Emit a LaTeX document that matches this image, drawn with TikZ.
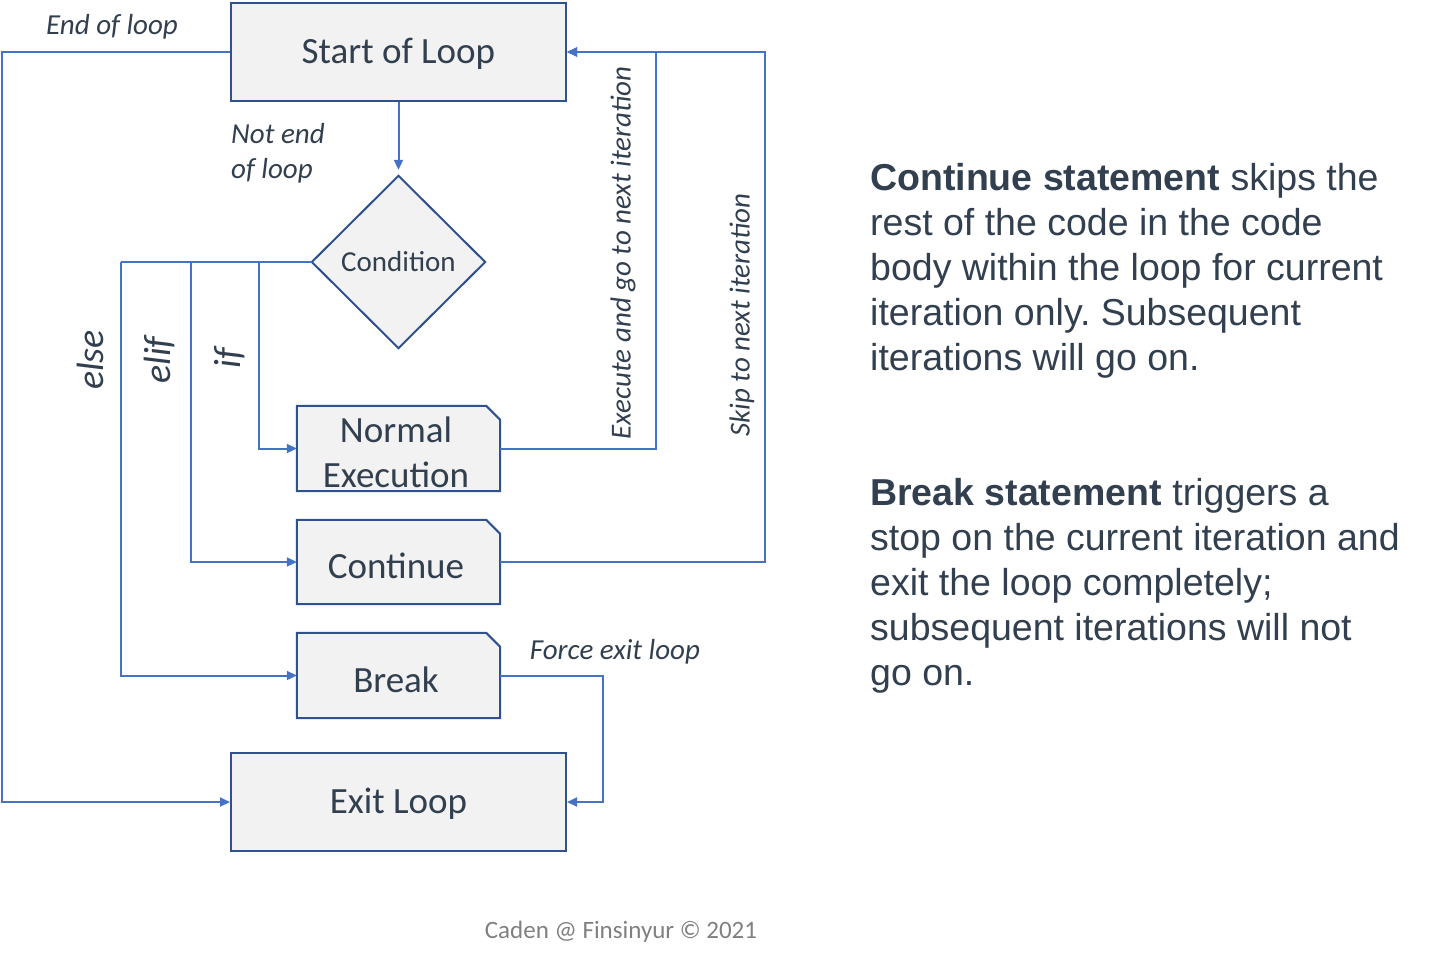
\documentclass[tikz,border=0pt]{standalone}
\usepackage{fontspec}
\setmainfont{Carlito}
\newfontfamily\arialf{Liberation Sans}
\usetikzlibrary{arrows.meta}
\definecolor{linec}{RGB}{68,114,196}
\definecolor{boxb}{RGB}{47,82,143}
\definecolor{boxf}{RGB}{242,242,242}
\definecolor{txt}{RGB}{50,63,79}
\definecolor{copyc}{RGB}{128,128,128}
\frenchspacing
\begin{document}
\begin{tikzpicture}[x=1pt,y=-1pt,
  boxn/.style={draw=boxb,fill=boxf,line width=2pt,inner sep=0pt,text=txt,font=\fontsize{37}{45}\selectfont,align=center,text depth=2pt},
  cutn/.style={draw=none,inner sep=0pt,minimum width=203pt},
  cutpath/.style={draw=boxb,fill=boxf,line width=2pt,line join=miter},
  conn/.style={draw=linec,line width=2pt,-{Triangle[length=10pt,width=9pt]}},
  plainconn/.style={draw=linec,line width=2pt},
  lab/.style={text=txt,font=\fontsize{29}{35}\selectfont\itshape,inner sep=0pt},
  biglab/.style={text=txt,font=\fontsize{38}{45}\selectfont\itshape,inner sep=0pt,rotate=90},
  boxtxt/.style={text=txt,font=\fontsize{37}{45}\selectfont,align=center,inner sep=0pt},
  para/.style={text=txt,font=\arialf\fontsize{37.5}{45}\selectfont,align=left,inner sep=0pt,anchor=north west}
]
\useasboundingbox (0,0) rectangle (1432,962);

% main boxes
\node[boxn,minimum width=335pt,minimum height=98pt] (start) at (398.5,52) {Start of Loop};
\node[boxn,minimum width=335pt,minimum height=98pt] (exit) at (398.5,802) {Exit Loop};

% diamond
\node[draw=none,minimum width=173pt,minimum height=172pt,inner sep=0pt] (cond) at (398.5,262) {};
\draw[cutpath] (cond.north) -- (cond.east) -- (cond.south) -- (cond.west) -- cycle;
\node[text=txt,font=\fontsize{29}{32}\selectfont,inner sep=0pt] (condt) at (cond.center) {Condition};

% cut-corner boxes
\node[cutn,minimum height=85pt] (norm) at (398.5,448.5) {};
\node[cutn,minimum height=84pt] (cont) at (398.5,562) {};
\node[cutn,minimum height=85pt] (brk) at (398.5,675.5) {};
\foreach \n in {norm,cont,brk}{
  \draw[cutpath] (\n.south west) -- (\n.north west) -- ([xshift=-14pt]\n.north east) -- ([yshift=-14pt]\n.north east) -- (\n.south east) -- cycle;
}
\node[boxtxt] (normt) at (396,452) {Normal\\Execution};
\node[boxtxt] (contt) at (396,566) {Continue};
\node[boxtxt] (brkt) at (396,680) {Break};

% helper coordinates
\coordinate (xelse) at (121,262);
\coordinate (xelif) at (191,262);
\coordinate (xif) at (259,262);
\coordinate (rn) at (656,52);
\coordinate (rc) at (765,52);
\coordinate (rb) at (603,802);
\coordinate (lb) at (2,802);

% connectors
\draw[conn,shorten >=6pt] (start.south) -- (cond.north);
\draw[plainconn] (cond.west) -- (xelse);
\draw[conn] (xelse) |- (brk.west);
\draw[conn] (xelif) |- (cont.west);
\draw[conn] (xif) |- (norm.west);
\draw[conn] (norm.east) -| (rn) -- (start.east);
\draw[conn] (cont.east) -| (rc) -- (start.east);
\draw[conn] (brk.east) -| (rb) -- (exit.east);
\draw[conn] (start.west) -| (lb) -- (exit.west);

% labels
\node[lab] (endl) at (112,27) {End of loop};
\node[lab,align=left,anchor=west] (notend) at (231,153) {Not end\\of loop};
\node[biglab] (elsel) at (90,360) {else};
\node[biglab] (elifl) at (160,360) {elif};
\node[biglab] (ifl) at (230,358) {if};
\node[lab,rotate=90] (execl) at (623,253) {Execute and go to next iteration};
\node[lab,rotate=90] (skipl) at (742,315) {Skip to next iteration};
\node[lab] (forcel) at (615,652) {Force exit loop};

% right paragraphs
\node[para] (p1) at (870,163) {\textbf{Continue statement} skips the\\rest of the code in the code\\body within the loop for current\\iteration only. Subsequent\\iterations will go on.};
\node[para] (p2) at (870,478) {\textbf{Break statement} triggers a\\stop on the current iteration and\\exit the loop completely;\\subsequent iterations will not\\go on.};

% footer
\node[text=copyc,font=\fontsize{25}{29}\selectfont,inner sep=0pt] (copy) at (621,932) {Caden @ Finsinyur © 2021};
\end{tikzpicture}
\end{document}
